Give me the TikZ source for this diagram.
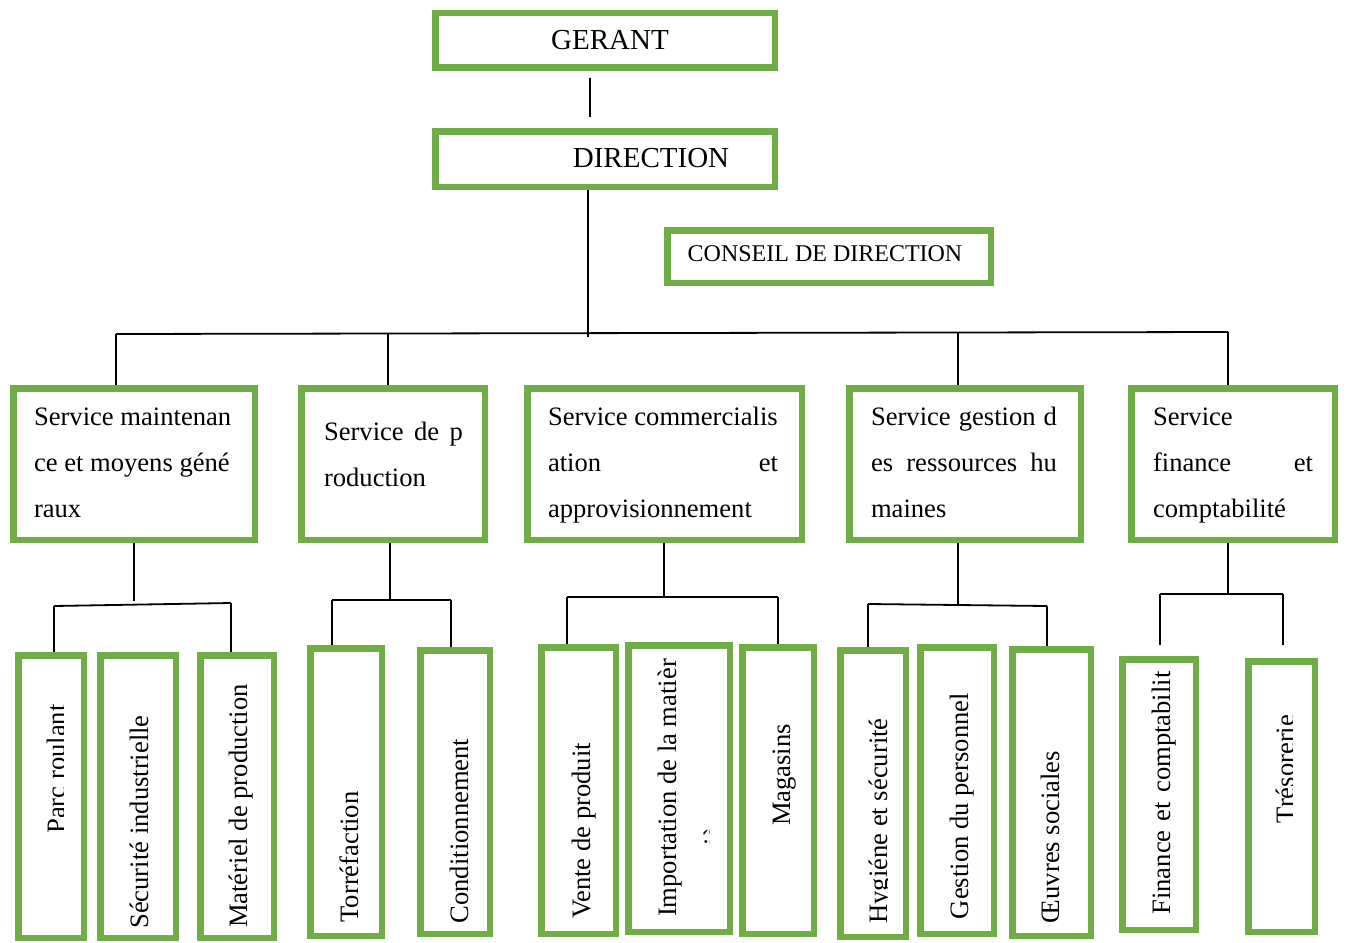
\documentclass[tikz,border=0pt]{standalone}
\usepackage{fontspec}
\setmainfont{Liberation Serif}
\definecolor{boxgreen}{HTML}{70AD47}
\tikzset{
  gbox/.style={draw=boxgreen, line width=6.5pt, fill=white, rectangle, inner sep=0pt, outer sep=0pt},
  link/.style={draw=black, line width=1.8pt},
  lbl/.style={inner sep=0pt, outer sep=0pt, font=\fontsize{26.6}{30}\selectfont},
  llbl/.style={lbl, anchor=base west},
  vlbl/.style={lbl, rotate=90, anchor=base},
}
% box from outer corners (x1,y1) to (x2,y2)
\newcommand\gbox[5]{\node[gbox, minimum width={#4-#2-6.5}, minimum height={#5-#3-6.5}] (#1) at ({(#2+#4)/2},{(#3+#5)/2}) {};}
\begin{document}
\begin{tikzpicture}[x=1pt,y=-1pt]
\useasboundingbox (0,0) rectangle (1346,942);

% ---------- connector points ----------
\coordinate (trunk) at (588,337);
\coordinate (busL) at (116,334);
\coordinate (busR) at (1228,332);
\coordinate (b2) at (388,333);
\coordinate (b4) at (958,333);

\coordinate (g1) at (134,601);
\coordinate (g1l) at (54,606);
\coordinate (g1r) at (231,603);
\coordinate (g2) at (390,600);
\coordinate (g2l) at (332,600);
\coordinate (g2r) at (451,600);
\coordinate (g3) at (664,597);
\coordinate (g3l) at (567,597);
\coordinate (g3r) at (778,597);
\coordinate (g4) at (958,604);
\coordinate (g4l) at (868,604);
\coordinate (g4r) at (1047,606);
\coordinate (g5) at (1228,594);
\coordinate (g5l) at (1160,594);
\coordinate (g5r) at (1283,594);
\coordinate (g5le) at (1160,645);
\coordinate (g5re) at (1283,645);

% ---------- boxes (placed first so anchors exist; redrawn on top below) ----------
\begin{scope}[opacity=0]
\gbox{gerant}{432}{10}{778}{71}
\gbox{direction}{432}{128}{778}{190}
\gbox{s1}{10}{385}{258}{543}
\gbox{s2}{298}{385}{488}{543}
\gbox{s3}{524}{385}{805}{543}
\gbox{s4}{846}{385}{1084}{543}
\gbox{s5}{1128}{385}{1338}{543}
\gbox{parc}{15}{652}{87}{941}
\gbox{mat}{197}{652}{277}{941}
\gbox{torr}{307}{645}{385}{939}
\gbox{cond}{417}{647}{493}{937}
\gbox{vente}{538}{644}{619}{937}
\gbox{maga}{739}{644}{817}{937}
\gbox{hyg}{837}{647}{909}{940}
\gbox{oeuv}{1009}{646}{1094}{939}
\end{scope}

% ---------- connectors ----------
\draw[link] ([xshift=-15pt,yshift=-10pt]gerant.south) -- ([xshift=-15pt,yshift=14pt]direction.north);
\draw[link] (direction.south -| trunk) -- (trunk);
\draw[link] (busL) -- (busR);
\draw[link] (busL) -- (busL |- s1.north);
\draw[link] (b2) -- (b2 |- s2.north);
\draw[link] (b4) -- (b4 |- s4.north);
\draw[link] (busR) -- (busR |- s5.north);

\draw[link] (s1.south -| g1) -- (g1);
\draw[link] (g1l) -- (g1r);
\draw[link] (g1l) -- (g1l |- parc.north);
\draw[link] (g1r) -- (g1r |- mat.north);

\draw[link] (s2.south -| g2) -- (g2);
\draw[link] (g2l) -- (g2r);
\draw[link] (g2l) -- (g2l |- torr.north);
\draw[link] (g2r) -- (g2r |- cond.north);

\draw[link] (s3.south -| g3) -- (g3);
\draw[link] (g3l) -- (g3r);
\draw[link] (g3l) -- (g3l |- vente.north);
\draw[link] (g3r) -- (g3r |- maga.north);

\draw[link] (s4.south -| g4) -- (g4);
\draw[link] (g4l) -- (g4r);
\draw[link] (g4l) -- (g4l |- hyg.north);
\draw[link] (g4r) -- (g4r |- oeuv.north);

\draw[link] (s5.south -| g5) -- (g5);
\draw[link] (g5l) -- (g5r);
\draw[link] (g5l) -- (g5le);
\draw[link] (g5r) -- (g5re);

% ---------- boxes ----------
\gbox{gerant}{432}{10}{778}{71}
\gbox{direction}{432}{128}{778}{190}
\gbox{conseil}{664}{227}{994}{286}
\gbox{s1}{10}{385}{258}{543}
\gbox{s2}{298}{385}{488}{543}
\gbox{s3}{524}{385}{805}{543}
\gbox{s4}{846}{385}{1084}{543}
\gbox{s5}{1128}{385}{1338}{543}
\gbox{parc}{15}{652}{87}{941}
\gbox{secu}{97}{652}{179}{941}
\gbox{mat}{197}{652}{277}{941}
\gbox{torr}{307}{645}{385}{939}
\gbox{cond}{417}{647}{493}{937}
\gbox{vente}{538}{644}{619}{937}
\gbox{impo}{625}{642}{733}{935}
\gbox{maga}{739}{644}{817}{937}
\gbox{hyg}{837}{647}{909}{940}
\gbox{gest}{917}{644}{997}{937}
\gbox{oeuv}{1009}{646}{1094}{939}
\gbox{fin}{1119}{656}{1199}{933}
\gbox{tres}{1245}{658}{1318}{935}

% ---------- top labels ----------
\node[lbl, font=\fontsize{29}{32}\selectfont] (tgerant) at (610,40) {GERANT};
\node[lbl, font=\fontsize{29}{32}\selectfont] (tdirection) at (651,158) {DIRECTION};
\node[lbl, font=\fontsize{24}{28}\selectfont] (tconseil) at (825,254) {CONSEIL DE DIRECTION};

% ---------- service labels ----------
\node[llbl] (t1a) at (34,425) {Service maintenan};
\node[llbl] (t1b) at (34,471) {ce et moyens géné};
\node[llbl] (t1c) at (34,517) {raux};

\node[llbl] (t2a) at (324,440) {\makebox[139pt][s]{Service de p}};
\node[llbl] (t2b) at (324,486) {roduction};

\node[llbl] (t3a) at (548,425) {Service commercialis};
\node[llbl] (t3b) at (548,471) {ation};
\node[lbl, anchor=base east] (t3c) at (778,471) {et};
\node[llbl] (t3d) at (548,517) {approvisionnement};

\node[llbl] (t4a) at (871,425) {\makebox[186pt][s]{Service gestion d}};
\node[llbl] (t4b) at (871,471) {\makebox[186pt][s]{es ressources hu}};
\node[llbl] (t4c) at (871,517) {maines};

\node[llbl] (t5a) at (1153,425) {Service};
\node[llbl] (t5b) at (1153,471) {finance};
\node[lbl, anchor=base east] (t5c) at (1313,471) {et};
\node[llbl] (t5d) at (1153,517) {comptabilité};

% ---------- rotated labels ----------
\begin{scope}
  \clip (15,652) rectangle (63,941);
  \node[vlbl] (tparc) at (65,769) {Parc roulant};
\end{scope}
\node[vlbl] (tsecu) at (148,822) {Sécurité industrielle};
\node[vlbl] (tmat) at (247,806) {Matériel de production};
\node[vlbl] (ttorr) at (358,857) {Torréfaction};
\node[vlbl] (tcond) at (468,831) {Conditionnement};
\node[vlbl] (tvente) at (590,831) {Vente de produit};
\node[vlbl] (timpo) at (676,788) {Importation de la matièr};
\begin{scope}
  \clip (625,642) rectangle (709.5,935);
  \node[vlbl] (timpo2) at (722,836) {iè};
\end{scope}
\node[vlbl] (tmaga) at (790,775) {Magasins};
\begin{scope}
  \clip (837,647) rectangle (887,940);
  \node[vlbl] (thyg) at (887,821) {Hygiéne et sécurité};
\end{scope}
\node[vlbl] (tgest) at (968,806) {Gestion du personnel};
\node[vlbl] (toeuv) at (1059,837) {Œuvres sociales};
\node[vlbl] (tfin) at (1170,793) {\makebox[243pt][s]{Finance et comptabilit}};
\begin{scope}
  \clip (1245,658) rectangle (1292.5,935);
  \node[vlbl] (ttres) at (1294.5,769) {Trésorerie};
\end{scope}
\end{tikzpicture}
\end{document}
